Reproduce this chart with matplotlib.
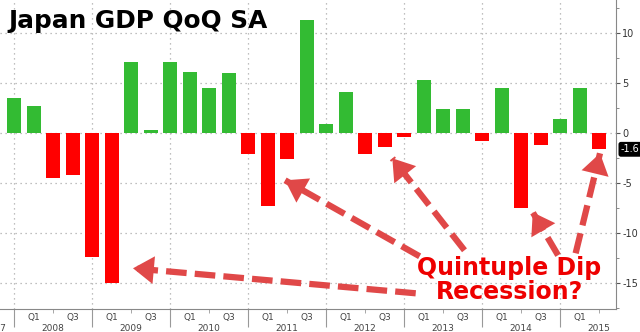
import numpy as np
import matplotlib.pyplot as plt
from matplotlib.transforms import blended_transform_factory

plt.rcParams['axes.unicode_minus'] = False

# quarterly GDP change (annualised, %), 2007 Q4 .. 2015 Q2
periods = ['2007Q4',
           '2008Q1', '2008Q2', '2008Q3', '2008Q4',
           '2009Q1', '2009Q2', '2009Q3', '2009Q4',
           '2010Q1', '2010Q2', '2010Q3', '2010Q4',
           '2011Q1', '2011Q2', '2011Q3', '2011Q4',
           '2012Q1', '2012Q2', '2012Q3', '2012Q4',
           '2013Q1', '2013Q2', '2013Q3', '2013Q4',
           '2014Q1', '2014Q2', '2014Q3', '2014Q4',
           '2015Q1', '2015Q2']
gdp = [3.5,
       2.7, -4.5, -4.2, -12.4,
       -15.0, 7.1, 0.3, 7.1,
       6.1, 4.5, 6.0, -2.1,
       -7.3, -2.6, 11.3, 0.9,
       4.1, -2.1, -1.4, -0.4,
       5.3, 2.4, 2.4, -0.8,
       4.5, -7.5, -1.2, 1.4,
       4.5, -1.6]
y_ticks = [-15, -10, -5, 0, 5, 10]

# dips the arrows point at: (tip, tail) in data coords
arrows = [((6.1, -13.5), (20.6, -16.0)),
          ((13.9, -4.7), (20.8, -12.3)),
          ((19.4, -2.5), (23.1, -11.7)),
          ((26.6, -7.9), (27.9, -12.2)),
          ((30.05, -2.0), (28.8, -12.0))]

arrow_col = '#e04848'

fig = plt.figure(figsize=(6.4, 3.32), dpi=100)
ax = fig.add_axes([0, 23/332, 616/640, 309/332])

x = np.arange(len(gdp))
colors = ['#33bb33' if v >= 0 else '#ff0000' for v in gdp]
ax.bar(x, gdp, width=0.72, color=colors, zorder=2)

ax.set_xlim(-0.72, 30.87)
ax.set_ylim(-17.57, 13.33)

# y axis on the right
ax.yaxis.tick_right()
ax.set_yticks(y_ticks)
ax.set_yticks(np.arange(-17.5, 13, 2.5), minor=True)
ax.tick_params(axis='y', which='major', length=3, color='#555555',
               labelsize=7, labelcolor='#333333', pad=1.5)
ax.tick_params(axis='y', which='minor', length=2, color='#777777')

# x axis: big ticks at year boundaries (Q4), small at Q2
q4 = [i for i, p in enumerate(periods) if p.endswith('Q4')]
q2 = [i for i, p in enumerate(periods) if p.endswith('Q2')]
ax.set_xticks(q4)
ax.set_xticklabels([])
ax.set_xticks(q2, minor=True)
ax.tick_params(axis='x', which='major', length=13, color='#999999')
ax.tick_params(axis='x', which='minor', length=3, color='#999999')

for s in ['left', 'top']:
    ax.spines[s].set_visible(False)
ax.spines['bottom'].set_color('#888888')
ax.spines['right'].set_color('#888888')

ax.grid(axis='both', which='major', ls=(0, (1, 3)), color='#aaaaaa', lw=0.9, zorder=0)

trans = blended_transform_factory(ax.transData, ax.transAxes)
for i, p in enumerate(periods):
    if p.endswith('Q1') or p.endswith('Q3'):
        ax.text(i, -0.026, p[4:], transform=trans, ha='center', va='center',
                fontsize=6.5, color='#444444')
    if p.endswith('Q2'):
        ax.text(i, -0.062, p[:4], transform=trans, ha='center', va='center',
                fontsize=6.5, color='#444444')
ax.text(-1.0, -0.062, '2007', transform=trans, ha='center', va='center',
        fontsize=6.5, color='#444444')

# last value tag
tag = blended_transform_factory(ax.transAxes, ax.transData)
ax.text(1.008, gdp[-1], '%.1f' % gdp[-1], transform=tag, ha='left', va='center',
        fontsize=7, color='white', clip_on=False,
        bbox=dict(boxstyle='round,pad=0.25', fc='black', ec='none'))

fig.text(8/640, 1 - 28/332, 'Japan GDP QoQ SA', fontsize=17.8, fontweight='bold',
         va='baseline', color='black')

# dashed shafts, then solid heads on top
for tip, tail in arrows:
    ax.plot([tail[0], tip[0]], [tail[1], tip[1]], color=arrow_col, lw=4.5,
            dashes=(3.3, 1.3), dash_capstyle='butt', zorder=3)
    near = (tip[0] + 0.01 * (tail[0] - tip[0]), tip[1] + 0.01 * (tail[1] - tip[1]))
    ax.annotate('', xy=tip, xytext=near,
                arrowprops=dict(arrowstyle='-|>,head_length=0.75,head_width=0.5',
                                color=arrow_col, lw=0, mutation_scale=20,
                                shrinkA=0, shrinkB=0),
                zorder=3)

ax.text(25.4, -14.7, 'Quintuple Dip\nRecession?', ha='center', va='center',
        fontsize=17, fontweight='bold', color='#ee0000', linespacing=1.0, zorder=4)

fig.savefig('out.png', dpi=100)
